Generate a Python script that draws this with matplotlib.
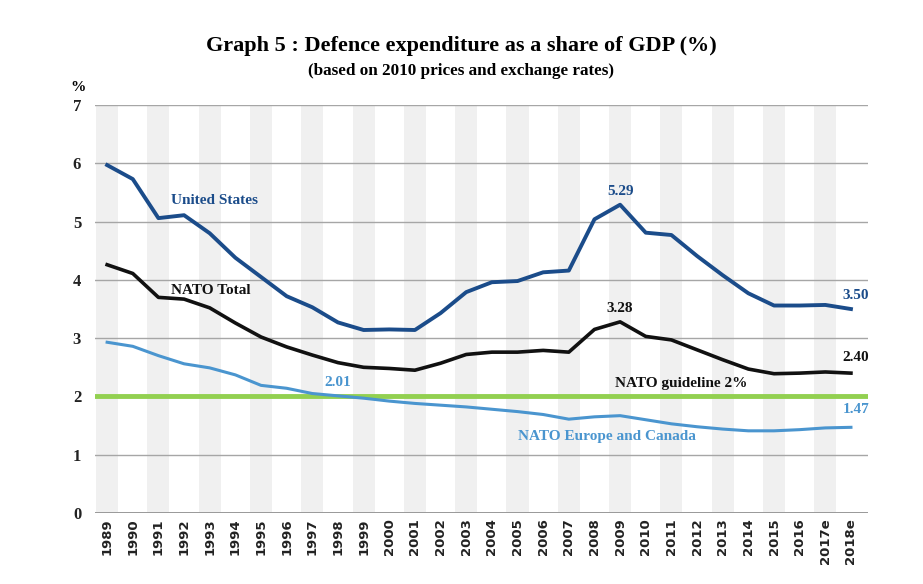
import numpy as np
import matplotlib
matplotlib.use("Agg")
import matplotlib.pyplot as plt

# Données
years = ["1989", "1990", "1991", "1992", "1993", "1994", "1995", "1996", "1997", "1998",
         "1999", "2000", "2001", "2002", "2003", "2004", "2005", "2006", "2007", "2008",
         "2009", "2010", "2011", "2012", "2013", "2014", "2015", "2016", "2017e", "2018e"]

united_states = [5.97, 5.73, 5.06, 5.11, 4.80, 4.38, 4.05, 3.72, 3.53, 3.27,
                 3.14, 3.15, 3.14, 3.43, 3.79, 3.96, 3.98, 4.13, 4.16, 5.04,
                 5.29, 4.81, 4.77, 4.41, 4.08, 3.77, 3.56, 3.56, 3.57, 3.50]

nato_total = [4.26, 4.11, 3.70, 3.67, 3.52, 3.26, 3.02, 2.85, 2.71, 2.58,
              2.50, 2.48, 2.45, 2.57, 2.72, 2.76, 2.76, 2.79, 2.76, 3.15,
              3.28, 3.03, 2.97, 2.80, 2.63, 2.47, 2.39, 2.40, 2.42, 2.40]

europe_canada = [2.93, 2.86, 2.70, 2.56, 2.49, 2.37, 2.19, 2.14, 2.05, 2.01,
                 1.97, 1.92, 1.88, 1.85, 1.82, 1.78, 1.74, 1.69, 1.61, 1.65,
                 1.67, 1.60, 1.53, 1.48, 1.44, 1.41, 1.41, 1.43, 1.46, 1.47]

guideline = 2.0

# Couleurs
c_us = "#1b4c8a"
c_total = "#111111"
c_eu = "#4a95cf"
c_green = "#92d050"

serif = ["Liberation Serif", "DejaVu Serif"]

fig = plt.figure(figsize=(9.23, 5.84), dpi=100)
ax = fig.add_axes([0.103, 0.1216, 0.837, 0.6985])

x = np.arange(len(years))

# Bandes grises alternées
for i in x[::2]:
    ax.axvspan(i - 0.43, i + 0.43, color="#f0f0f0", zorder=0, lw=0)

# Grille horizontale
for v in range(1, 8):
    ax.axhline(v, color="#a6a6a6", lw=1.0, zorder=1)
ax.axhline(0, color="#999999", lw=1.4, zorder=1)

# Séries
ax.plot(x, united_states, color=c_us, lw=2.8, zorder=3)
ax.plot(x, nato_total, color=c_total, lw=2.6, zorder=3)
ax.plot(x, europe_canada, color=c_eu, lw=2.2, zorder=3)
ax.axhline(guideline, color=c_green, lw=3.5, zorder=2)

ax.set_xlim(-0.47, 29.65)
ax.set_ylim(0, 7)

for s in ax.spines.values():
    s.set_visible(False)

ax.set_xticks(x)
ax.set_xticklabels(years, rotation=90, fontsize=9.5, fontweight="bold",
                   family="DejaVu Sans", color="#222222")
ax.set_yticks(range(0, 8))
ax.set_yticklabels([str(v) for v in range(0, 8)], fontsize=12, fontweight="bold",
                   family=serif, color="#222222")
ax.tick_params(axis="y", length=0, pad=10)
ax.tick_params(axis="x", length=0, pad=4)

# Titres
fig.text(0.5, 0.922, "Graph 5 : Defence expenditure as a share of GDP (%)",
         ha="center", va="center", fontsize=16, fontweight="bold", family=serif)
fig.text(0.5, 0.879, "(based on 2010 prices and exchange rates)",
         ha="center", va="center", fontsize=12.3, fontweight="bold", family=serif)
fig.text(0.085, 0.85, "%", ha="center", va="center", fontsize=11,
         fontweight="bold", family=serif)

# Étiquettes des séries
lab = dict(fontsize=11, fontweight="bold", family=serif)
ax.text(2.5, 5.36, "United States", color=c_us, ha="left", va="center", **lab)
ax.text(2.5, 3.82, "NATO Total", color=c_total, ha="left", va="center", **lab)
ax.text(16, 1.32, "NATO Europe and Canada", color=c_eu, ha="left", va="center", **lab)
ax.text(19.8, 2.22, "NATO guideline 2%", color=c_total, ha="left", va="center", **lab)

# Valeurs
i09 = years.index("2009")
i98 = years.index("1998")
ax.text(i09, united_states[i09] + 0.12, f"{united_states[i09]:.2f}", color=c_us,
        ha="center", va="bottom", **lab)
ax.text(i09, nato_total[i09] + 0.12, f"{nato_total[i09]:.2f}", color=c_total,
        ha="center", va="bottom", **lab)
ax.text(i98, europe_canada[i98] + 0.12, f"{europe_canada[i98]:.2f}", color=c_eu,
        ha="center", va="bottom", **lab)
ax.text(x[-1] + 0.2, united_states[-1] + 0.12, f"{united_states[-1]:.2f}", color=c_us,
        ha="center", va="bottom", **lab)
ax.text(x[-1] + 0.2, nato_total[-1] + 0.16, f"{nato_total[-1]:.2f}", color=c_total,
        ha="center", va="bottom", **lab)
ax.text(x[-1] + 0.2, europe_canada[-1] + 0.2, f"{europe_canada[-1]:.2f}", color=c_eu,
        ha="center", va="bottom", **lab)

fig.savefig("out.png", dpi=100)
